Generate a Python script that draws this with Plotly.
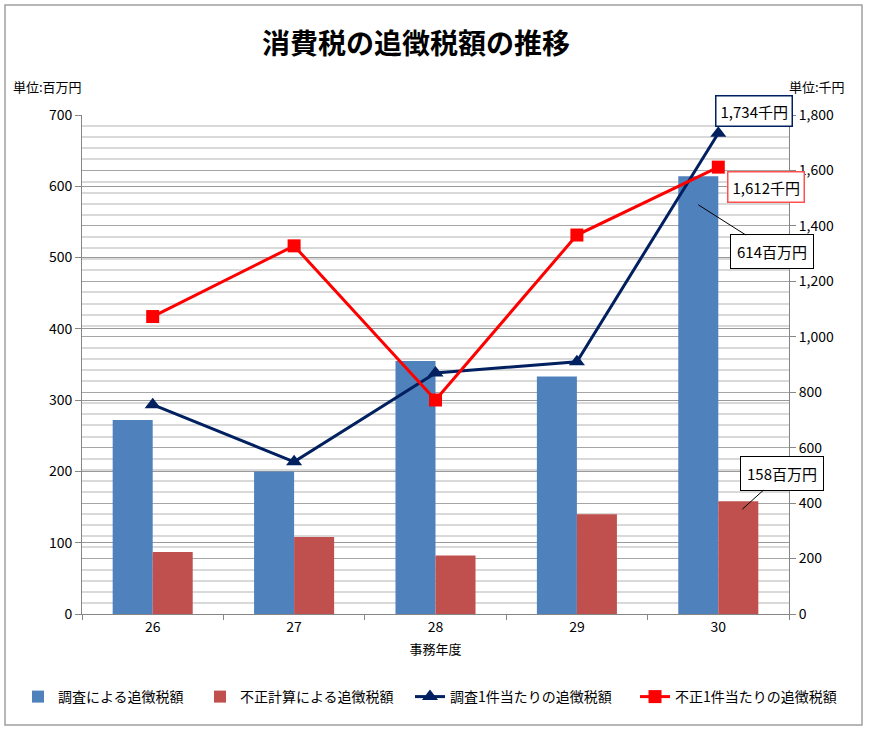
import plotly.graph_objects as go

years = ["26", "27", "28", "29", "30"]
chosa_total = [272, 200, 355, 333, 614]          # 調査による追徴税額 (百万円)
fusei_total = [87, 108, 82, 140, 158]            # 不正計算による追徴税額 (百万円)
chosa_per = [755, 549, 869, 910, 1734]           # 調査1件当たりの追徴税額 (千円)
fusei_per = [1073, 1328, 772, 1367, 1612]        # 不正1件当たりの追徴税額 (千円)

FONT = "Noto Sans CJK JP"
BLUE = "#4f81bd"
RED_BAR = "#c0504d"
NAVY = "#002060"
RED = "#ff0000"

fig = go.Figure()
fig.add_trace(go.Bar(x=years, y=chosa_total, name="調査による追徴税額", legend="legend",
                     marker=dict(color=BLUE, line=dict(width=0))))
fig.add_trace(go.Bar(x=years, y=fusei_total, name="不正計算による追徴税額", legend="legend2",
                     marker=dict(color=RED_BAR, line=dict(width=0))))
fig.add_trace(go.Scatter(x=years, y=chosa_per, name="調査1件当たりの追徴税額", yaxis="y2",
                         legend="legend3",
                         mode="lines+markers", line=dict(color=NAVY, width=3),
                         marker=dict(symbol="triangle-up", size=14, color=NAVY)))
fig.add_trace(go.Scatter(x=years, y=fusei_per, name="不正1件当たりの追徴税額", yaxis="y2",
                         legend="legend4",
                         mode="lines+markers", line=dict(color=RED, width=3),
                         marker=dict(symbol="square", size=13, color=RED)))

W, H = 869, 733
L, R, T, B = 82, 80, 115, 119
pw = W - L - R
ph = H - T - B

def px_x(x):
    return (x - L) / pw

def px_y(y):
    return (H - B - y) / ph

def leg(text_start):
    return dict(orientation="h", x=(text_start - 42) / W, xanchor="left", xref="container",
                y=1 - 697 / H, yanchor="middle", yref="container",
                font=dict(family=FONT, size=14, color="#000000"),
                itemwidth=30, bgcolor="rgba(0,0,0,0)")

last = len(years) - 1

fig.update_layout(
    width=W, height=H,
    margin=dict(l=L, r=R, t=T, b=B, pad=0),
    paper_bgcolor="white", plot_bgcolor="white",
    font=dict(family=FONT, size=14, color="#000000"),
    title=dict(text="<b>消費税の追徴税額の推移</b>", x=416 / W, xanchor="center",
               y=1 - 44 / H, yanchor="middle", yref="container",
               font=dict(family=FONT, size=28, color="#000000")),
    barmode="group", bargap=0.434, bargroupgap=0,
    showlegend=True,
    legend=leg(60), legend2=leg(242), legend3=leg(452), legend4=leg(677),
    xaxis=dict(type="category", range=[-0.5, 4.5], autorange=False,
               showline=True, linecolor="#868686", linewidth=1,
               ticks="outside", tickson="boundaries", ticklen=5, tickcolor="#868686",
               showgrid=False, tickangle=0, tickfont=dict(family=FONT, size=14),
               title=dict(text="事務年度", font=dict(family=FONT, size=13), standoff=10)),
    yaxis=dict(range=[0, 700], autorange=False, dtick=100, showline=True, linecolor="#868686",
               linewidth=1, ticks="outside", ticklen=6, tickcolor="#868686",
               showgrid=True, gridcolor="#9a9a9a", gridwidth=1,
               zeroline=False, tickfont=dict(family=FONT, size=14)),
    yaxis2=dict(range=[0, 1800], autorange=False, dtick=200, overlaying="y", side="right",
                showline=True, linecolor="#868686", linewidth=1,
                ticks="outside", ticklen=6, tickcolor="#868686",
                showgrid=True, gridcolor="#a6a6a6", gridwidth=1,
                minor=dict(dtick=40, showgrid=True, gridcolor="#d9d9d9", gridwidth=1.5),
                zeroline=False, tickformat=",d", tickfont=dict(family=FONT, size=14)),
)

# unit labels
fig.add_annotation(text="単位:百万円", xref="paper", yref="paper",
                   x=px_x(11), y=px_y(86), xanchor="left", yanchor="middle",
                   showarrow=False, font=dict(family=FONT, size=13))
fig.add_annotation(text="単位:千円", xref="paper", yref="paper",
                   x=px_x(847), y=px_y(86), xanchor="right", yanchor="middle",
                   showarrow=False, font=dict(family=FONT, size=13))

# value callouts
fig.add_annotation(text="1,734千円", x=last, y=chosa_per[last], yref="y2",
                   showarrow=False, xshift=36, yshift=22,
                   bordercolor=NAVY, borderwidth=1.5, borderpad=4, bgcolor="white",
                   font=dict(family=FONT, size=15))
fig.add_annotation(text="1,612千円", x=last, y=fusei_per[last], yref="y2",
                   showarrow=False, xshift=48, yshift=-20,
                   bordercolor="#ff5050", borderwidth=1.5, borderpad=4, bgcolor="white",
                   font=dict(family=FONT, size=15))
fig.add_annotation(text="614百万円", x=last, y=chosa_total[last] - 40, yref="y",
                   showarrow=True, arrowhead=0, arrowwidth=1, arrowcolor="#000000",
                   xshift=-20, ax=74, ay=47,
                   bordercolor="#000000", borderwidth=1, borderpad=6, bgcolor="white",
                   font=dict(family=FONT, size=15))
fig.add_annotation(text="158百万円", x=last, y=fusei_total[last] - 11, yref="y",
                   showarrow=True, arrowhead=0, arrowwidth=1, arrowcolor="#000000",
                   xshift=24, ax=40, ay=-36,
                   bordercolor="#000000", borderwidth=1, borderpad=6, bgcolor="white",
                   font=dict(family=FONT, size=15))

# outer frame
fig.add_shape(type="rect", xref="paper", yref="paper",
              x0=px_x(5), x1=px_x(862), y0=px_y(725), y1=px_y(5),
              line=dict(color="#a0a0a0", width=1.5), fillcolor="rgba(0,0,0,0)", layer="below")

fig.write_html("out.html")
